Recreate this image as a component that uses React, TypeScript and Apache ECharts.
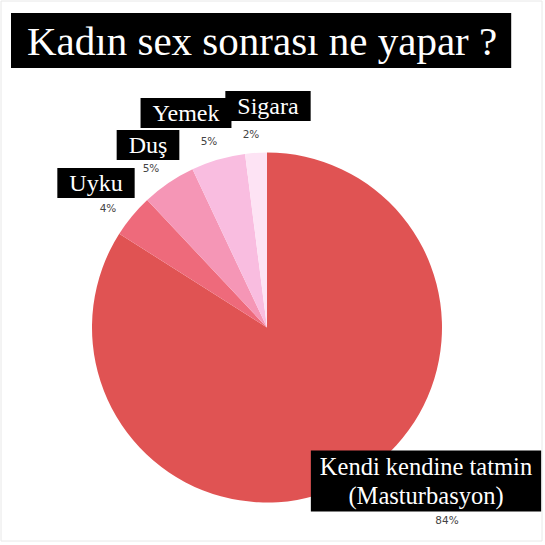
import React, { useEffect, useRef } from "react";
import * as echarts from "echarts";

const titleText = "Kadın sex sonrası ne yapar ?";
const categories = ["Kendi kendine tatmin\n(Masturbasyon)", "Uyku", "Duş", "Yemek", "Sigara"];
const values = [84, 4, 5, 5, 2];
const colors = ["#e05353", "#ee6a7b", "#f596b6", "#f9bde0", "#fde3f4"];

// layout: label box centres and percentage text centres
const labelPos = [
  [426, 481],
  [96, 183],
  [148, 145],
  [186, 113],
  [268, 106],
];
const pctPos = [
  [447, 520],
  [108, 208],
  [151, 168],
  [209, 141],
  [251, 134],
];

export default function App() {
  const ref = useRef<HTMLDivElement>(null);
  useEffect(() => {
    const chart = echarts.init(ref.current!, null, { renderer: "svg" });
    const serif = "Liberation Serif";
    chart.setOption({
      animation: false,
      backgroundColor: "#ffffff",
      textStyle: { fontFamily: serif },
      title: {
        text: titleText,
        left: 11,
        top: 13,
        padding: [7, 14, 7, 16],
        backgroundColor: "#000000",
        textStyle: {
          color: "#ffffff",
          fontFamily: serif,
          fontWeight: "normal",
          fontSize: 41,
          width: 470,
          height: 41,
          lineHeight: 41,
        },
      },
      graphic: [
        {
          type: "rect",
          shape: { x: 1, y: 1, width: 541, height: 540 },
          style: { fill: "none", stroke: "#e8e8e8", lineWidth: 1 },
          silent: true,
        },
        ...values.map((v, i) => ({
          type: "text",
          x: pctPos[i][0],
          y: pctPos[i][1],
          style: {
            text: v + "%",
            fill: "#444444",
            font: "10.5px DejaVu Sans",
            align: "center",
            verticalAlign: "middle",
          },
        })),
      ],
      series: [
        {
          type: "pie",
          center: [267, 327.5],
          radius: [0, 175],
          startAngle: 90,
          clockwise: true,
          avoidLabelOverlap: false,
          labelLine: { show: false },
          label: {
            show: true,
            position: "outside",
            formatter: "{b}",
            backgroundColor: "#000000",
            color: "#ffffff",
            fontFamily: serif,
            fontWeight: "normal",
            fontSize: 24,
            lineHeight: 25,
            padding: [3, 12, 2, 12],
          },
          labelLayout: (params: any) => ({
            x: labelPos[params.dataIndex][0],
            y: labelPos[params.dataIndex][1],
            align: "center",
            verticalAlign: "middle",
          }),
          data: categories.map((c, i) => ({
            name: c,
            value: values[i],
            itemStyle: { color: colors[i] },
            label:
              i === 0
                ? {
                    fontFamily: serif,
                    fontSize: 24.5,
                    lineHeight: 29,
                    padding: [1, 9, 2, 9],
                    align: "center",
                  }
                : { fontFamily: serif },
          })),
        },
      ],
    });
    return () => chart.dispose();
  }, []);
  return (
    <div
      ref={ref}
      style={{ position: "absolute", left: 0, top: 0, width: 545, height: 545 }}
    />
  );
}
